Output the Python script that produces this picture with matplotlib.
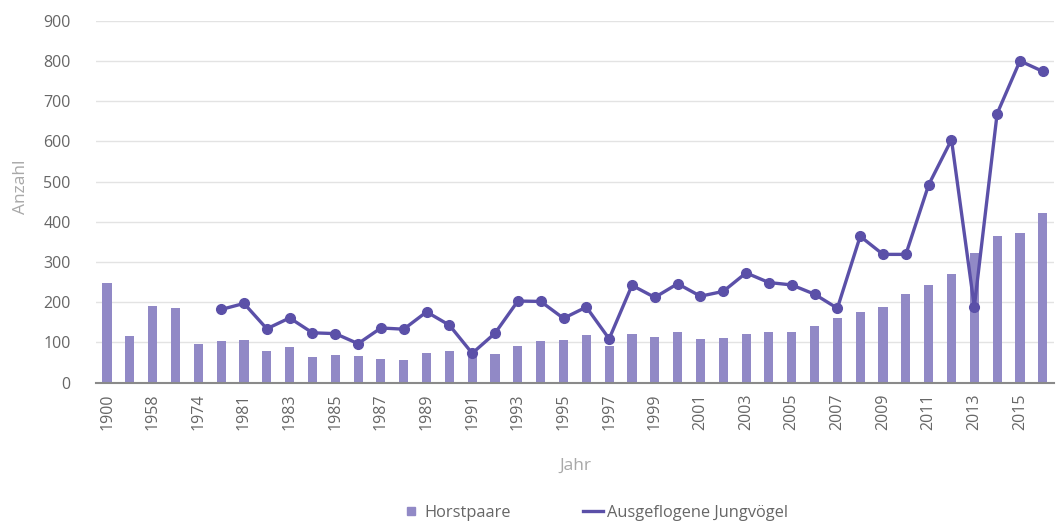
import matplotlib.pyplot as plt
from matplotlib.lines import Line2D
import numpy as np

plt.rcParams['font.family'] = ['Open Sans', 'DejaVu Sans']

# Jahre (nur jedes zweite wird beschriftet)
jahre = ['1900', '1950', '1958', '1966', '1974', '1980'] + [str(j) for j in range(1981, 2017)]

horstpaare = [248, 117, 190, 185, 96, 103, 105, 78, 88, 65, 68, 66, 60, 56, 73, 79,
              78, 71, 91, 103, 107, 118, 92, 122, 114, 125, 108, 112, 121, 127, 127,
              142, 161, 176, 188, 220, 243, 271, 323, 364, 372, 421]

# Jungvögel erst ab dem sechsten Eintrag
jungvoegel = [None] * 5 + [182, 197, 134, 161, 124, 122, 97, 136, 133, 176, 143, 73,
                           123, 203, 202, 160, 188, 109, 242, 212, 246, 215, 227, 273,
                           249, 243, 220, 185, 364, 319, 319, 492, 604, 189, 669, 800, 774]

bar_col = '#9189c6'
line_col = '#5b50a8'
txt_col = '#666666'

fig = plt.figure(figsize=(10.58, 5.24), dpi=100)
ax = fig.add_axes([0.0904, 0.2697, 0.906, 0.6908])

x = np.arange(len(jahre))
ax.bar(x, horstpaare, width=0.4, color=bar_col, zorder=2)
jv = np.array([np.nan if v is None else v for v in jungvoegel], dtype=float)
ax.plot(x, jv, color=line_col, lw=2.4, marker='o', ms=7, zorder=3)

ax.set_xlim(-0.5, len(jahre) - 0.5)
ax.set_ylim(0, 900)
ax.set_yticks(range(0, 901, 100))
ax.yaxis.grid(True, color='#e3e3e3', lw=1, zorder=0)
ax.set_xticks(x[::2])
ax.set_xticklabels(jahre[::2], rotation=90)
ax.tick_params(length=0, labelsize=11.5, colors=txt_col)
ax.tick_params(axis='y', pad=18)
ax.tick_params(axis='x', pad=8)
for s in ['top', 'right', 'left']:
    ax.spines[s].set_visible(False)
ax.spines['bottom'].set_color('#8a8a8a')
ax.spines['bottom'].set_linewidth(1.5)
ax.spines['bottom'].set_zorder(4)

ax.set_ylabel('Anzahl', color='#a8a8a8', fontsize=12.5, labelpad=14)
ax.yaxis.set_label_coords(-0.07, 0.54)
ax.set_xlabel('Jahr', color='#a8a8a8', fontsize=12.5, labelpad=20)

handles = [Line2D([], [], marker='s', ls='none', color=bar_col, ms=6),
           Line2D([], [], color=line_col, lw=2.4)]
fig.legend(handles, ['Horstpaare', 'Ausgeflogene Jungvögel'], loc='lower center',
           bbox_to_anchor=(0.562, -0.022), ncol=2, frameon=False, fontsize=11.8,
           labelcolor=txt_col, columnspacing=4.4, handlelength=1.2, handletextpad=0.25)

fig.savefig('out.png', dpi=100, facecolor='white')
